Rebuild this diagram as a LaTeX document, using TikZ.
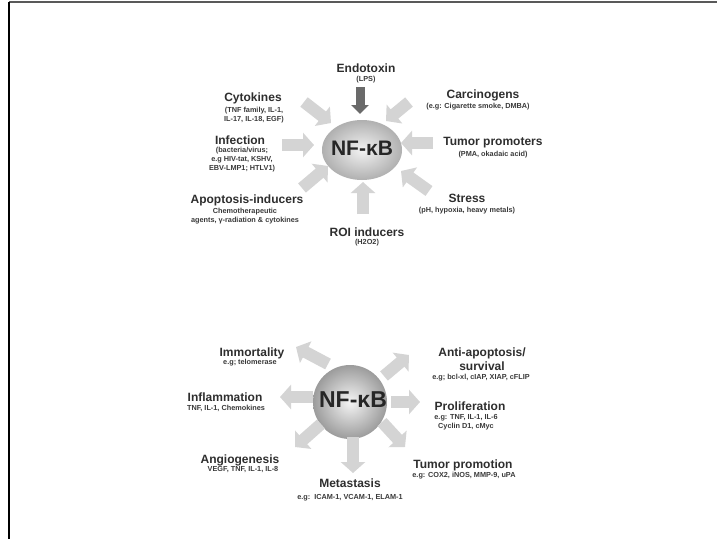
\documentclass[tikz,border=0pt]{standalone}
\usepackage{fontspec}
\setmainfont{Liberation Sans}
\usetikzlibrary{arrows.meta}
\definecolor{tcol}{HTML}{2E2E2E}
\definecolor{scol}{HTML}{3A3A3A}
\definecolor{arr}{HTML}{D4D4D4}
\definecolor{darr}{HTML}{6A6A6A}
\begin{document}
\begin{tikzpicture}[x=1pt,y=-1pt,
  title/.style={font=\bfseries\fontsize{12}{14}\selectfont, text=tcol, inner sep=0pt},
  sub/.style={font=\bfseries\fontsize{7.3}{9}\selectfont, text=scol, align=center, inner sep=0pt},
  fat/.style={draw=arr, line width=12pt, -{Triangle[width=24pt,length=11pt]}},
  darkfat/.style={draw=darr, line width=9pt, -{Triangle[width=17pt,length=9pt]}},
  hub/.style={font=\bfseries\fontsize{21}{24}\selectfont, text=black!85, inner sep=0pt},
  frame/.style={line width=1.3pt}
]
\useasboundingbox (0,0) rectangle (717,539);
\fill[white] (0,0) rectangle (717,539);
% frame
\coordinate (f1) at (9,2);
\coordinate (f2) at (717,2);
\coordinate (f3) at (9,539);
\draw[frame, draw=black!65] (f1) -- (f2);
\draw[frame, draw=black] (f1) -- (f3);

% ===== top diagram =====
\shade[shading=radial, inner color=gray!10, outer color=gray!62] (362,150) ellipse [x radius=40, y radius=30];
\node[hub] (T) at (362,148) {NF-κB};

\node[title] (endo) at (366,68) {Endotoxin};
\node[sub] (endos) at (366,80) {(LPS)};
\coordinate (endoA) at (360,87);  \coordinate (endoB) at (360,114);
\draw[darkfat] (endoA) -- (endoB);

\node[title] (cyto) at (253,98) {Cytokines};
\node[sub] (cytos) at (254,115) {(TNF family, IL-1,\\IL-17, IL-18, EGF)};
\coordinate (cytoA) at (304,102); \coordinate (cytoB) at (331,123);
\draw[fat] (cytoA) -- (cytoB);

\node[title] (carc) at (483,95) {Carcinogens};
\node[sub] (carcs) at (478,107) {(e.g: Cigarette smoke, DMBA)};
\coordinate (carcA) at (409,102); \coordinate (carcB) at (386,121);
\draw[fat] (carcA) -- (carcB);

\node[title] (inf) at (240,140) {Infection};
\node[sub] (infs) at (242,160) {(bacteria/virus;\\e.g HIV-tat, KSHV,\\EBV-LMP1; HTLV1)};
\coordinate (infA) at (282,145); \coordinate (infB) at (314,145);
\draw[fat] (infA) -- (infB);

\node[title] (tp) at (493,143) {Tumor promoters};
\node[sub] (tps) at (493,155) {(PMA, okadaic acid)};
\coordinate (tpA) at (433,143); \coordinate (tpB) at (401,143);
\draw[fat] (tpA) -- (tpB);

\node[title] (apo) at (247,200) {Apoptosis-inducers};
\node[sub] (apos) at (245,216.5) {Chemotherapeutic\\agents, γ-radiation \& cytokines};
\coordinate (apoA) at (302,188); \coordinate (apoB) at (328,166);
\draw[fat] (apoA) -- (apoB);

\node[title] (str) at (467,198) {Stress};
\node[sub] (strs) at (467,211) {(pH, hypoxia, heavy metals)};
\coordinate (strA) at (429,191); \coordinate (strB) at (401,171);
\draw[fat] (strA) -- (strB);

\coordinate (roiA) at (363,214); \coordinate (roiB) at (363,182);
\draw[fat] (roiA) -- (roiB);
\node[title] (roi) at (367,232) {ROI inducers};
\node[sub] (rois) at (367,243) {(H2O2)};

% ===== bottom diagram =====
\shade[shading=radial, inner color=gray!8, outer color=gray!78] (350,402) circle [radius=37];
\node[hub, font=\bfseries\fontsize{23}{26}\selectfont] (B) at (353,400) {NF-κB};

\node[title] (imm) at (252,353) {Immortality};
\node[sub] (imms) at (250,363) {e.g; telomerase};
\coordinate (immA) at (328,364); \coordinate (immB) at (296,347);
\draw[fat] (immA) -- (immB);

\node[title] (aa) at (482,353) {Anti-apoptosis/};
\node[title] (aa2) at (482,366) {survival};
\node[sub] (aas) at (481,378) {e.g; bcl-xl, cIAP, XIAP, cFLIP};
\coordinate (aaA) at (384,376); \coordinate (aaB) at (409,355);
\draw[fat] (aaA) -- (aaB);

\node[title] (infl) at (225,397) {Inflammation};
\node[sub] (infls) at (226,408) {TNF, IL-1, Chemokines};
\coordinate (inflA) at (313,397); \coordinate (inflB) at (280,397);
\draw[fat] (inflA) -- (inflB);

\node[title] (pro) at (470,406) {Proliferation};
\node[sub] (pros) at (466,422.5) {e.g: TNF, IL-1, IL-6\\Cyclin D1, cMyc};
\coordinate (proA) at (391,402); \coordinate (proB) at (420,402);
\draw[fat] (proA) -- (proB);

\node[title] (ang) at (240,460) {Angiogenesis};
\node[sub] (angs) at (243,470) {VEGF, TNF, IL-1, IL-8};
\coordinate (angA) at (321,424); \coordinate (angB) at (295,447);
\draw[fat] (angA) -- (angB);

\coordinate (metA) at (353,437); \coordinate (metB) at (353,473);
\draw[fat] (metA) -- (metB);
\node[title] (met) at (350,483) {Metastasis};
\node[sub] (mets) at (350,498) {e.g:\ \ ICAM-1, VCAM-1, ELAM-1};

\node[title] (tpm) at (463,465) {Tumor promotion};
\node[sub] (tpms) at (464,476) {e.g: COX2, iNOS, MMP-9, uPA};
\coordinate (tpmA) at (382,422); \coordinate (tpmB) at (405,447);
\draw[fat] (tpmA) -- (tpmB);
\end{tikzpicture}
\end{document}
